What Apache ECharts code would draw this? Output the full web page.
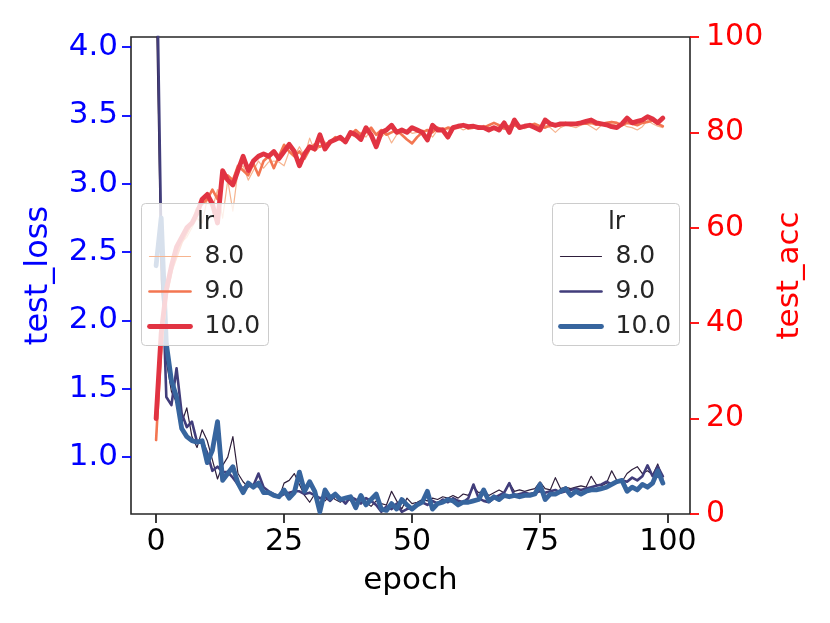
<!DOCTYPE html>
<html>
<head>
<meta charset="utf-8">
<script src="https://cdn.jsdelivr.net/npm/echarts@6/dist/echarts.min.js"></script>
<style>
  html, body { margin: 0; padding: 0; background: #fff; }
  #chart { width: 830px; height: 623px; }
</style>
</head>
<body>
<div id="chart"></div>
<script>
// hue levels (learning rate)
const LR_LABELS = ['8.0', '9.0', '10.0'];
const EPOCH_TICKS = [0, 25, 50, 75, 100];
const LOSS_TICKS = [1.0, 1.5, 2.0, 2.5, 3.0, 3.5, 4.0];

// test_loss per epoch (0..99)
const LOSS_LR8 = [4.4, 2.3, 1.70, 1.48, 1.40, 1.25, 1.36, 1.15, 1.07, 1.20,
  1.12, 0.98, 0.84, 0.94, 1.00, 1.15, 0.88, 0.82, 0.78, 0.80,
  0.78, 0.75, 0.73, 0.72, 0.70, 0.81, 0.83, 0.88, 0.80, 0.72,
  0.67, 0.73, 0.70, 0.68, 0.72, 0.69, 0.67, 0.71, 0.68, 0.66,
  0.70, 0.67, 0.64, 0.68, 0.66, 0.65, 0.75, 0.68, 0.62, 0.70,
  0.66, 0.67, 0.69, 0.68, 0.70, 0.69, 0.71, 0.70, 0.72, 0.70,
  0.73, 0.72, 0.78, 0.74, 0.75, 0.72, 0.74, 0.76, 0.74, 0.81,
  0.75, 0.76, 0.75, 0.76, 0.77, 0.82, 0.77, 0.76, 0.85, 0.77,
  0.78, 0.77, 0.78, 0.79, 0.78, 0.86, 0.80, 0.79, 0.81, 0.90,
  0.83, 0.82, 0.88, 0.91, 0.93, 0.88, 0.90, 0.87, 0.95, 0.84];
const LOSS_LR9 = [5.0, 2.6, 1.44, 1.38, 1.65, 1.32, 1.22, 1.26, 1.11, 1.12,
  1.03, 0.90, 0.93, 0.89, 0.89, 0.85, 0.80, 0.77, 0.81, 0.79,
  0.88, 0.78, 0.75, 0.73, 0.71, 0.73, 0.74, 0.75, 0.75, 0.73,
  0.74, 0.72, 0.70, 0.71, 0.68, 0.72, 0.70, 0.66, 0.71, 0.69,
  0.66, 0.70, 0.68, 0.65, 0.60, 0.64, 0.62, 0.66, 0.60, 0.62,
  0.63, 0.66, 0.67, 0.65, 0.68, 0.66, 0.69, 0.67, 0.70, 0.68,
  0.67, 0.70, 0.80, 0.70, 0.68, 0.67, 0.70, 0.72, 0.74, 0.81,
  0.72, 0.73, 0.74, 0.73, 0.74, 0.75, 0.74, 0.75, 0.76, 0.74,
  0.75, 0.76, 0.77, 0.76, 0.77, 0.78, 0.79, 0.80, 0.82, 0.80,
  0.82, 0.83, 0.82, 0.85, 0.83, 0.86, 0.94, 0.86, 0.93, 0.86];
const LOSS_LR10 = [2.40, 2.75, 1.83, 1.56, 1.44, 1.21, 1.15, 1.12, 1.11, 1.12,
  0.96, 1.05, 1.26, 0.83, 0.88, 0.93, 0.81, 0.74, 0.81, 0.78,
  0.81, 0.74, 0.74, 0.72, 0.71, 0.76, 0.70, 0.74, 0.89, 0.75,
  0.82, 0.75, 0.60, 0.76, 0.70, 0.73, 0.69, 0.70, 0.71, 0.63,
  0.72, 0.65, 0.69, 0.73, 0.62, 0.61, 0.66, 0.62, 0.69, 0.65,
  0.62, 0.65, 0.67, 0.75, 0.62, 0.66, 0.67, 0.69, 0.68, 0.65,
  0.67, 0.67, 0.68, 0.69, 0.76, 0.68, 0.71, 0.69, 0.72, 0.71,
  0.72, 0.71, 0.72, 0.72, 0.73, 0.80, 0.69, 0.73, 0.73, 0.75,
  0.77, 0.72, 0.75, 0.73, 0.75, 0.76, 0.76, 0.77, 0.78, 0.80,
  0.82, 0.83, 0.75, 0.78, 0.76, 0.80, 0.78, 0.81, 0.90, 0.81];

// test_acc per epoch (0..99)
const ACC_LR8 = [15.5, 33, 45, 50, 55, 57, 58, 60, 62, 61,
  66, 64, 68, 62, 70, 63.5, 72, 73, 70, 72,
  74, 72.5, 73.8, 74, 73.8, 73, 76, 75, 77, 75,
  78.8, 76, 77, 78, 77.5, 78.5, 79, 78, 79.5, 79,
  80, 79, 80.5, 79.5, 79, 80, 77.8, 79.5, 80, 80.5,
  79.8, 80, 80.5, 80.2, 79, 80.5, 81, 80.5, 80.8, 81.2,
  80.5, 81, 81.2, 80.8, 81.5, 81, 80.5, 81.3, 81, 81.5,
  81.8, 81, 80.8, 81.3, 81.5, 81.2, 81.5, 81, 80, 81,
  81.5, 81.3, 81, 81.5, 81.8, 81.2, 80.5, 81.5, 82, 81.8,
  81.5, 81.8, 81.2, 81, 80.5, 81.2, 82.5, 81.8, 81.3, 81];
const ACC_LR9 = [15.5, 35, 46, 51, 54, 57, 59, 61, 64, 65,
  66, 68, 66, 70, 71, 70, 73, 72, 71, 73.5,
  71, 74, 75, 72.5, 75, 77.4, 76, 75, 76, 74.5,
  76.5, 77.5, 77, 77.5, 78, 79, 78.5, 78, 79.5, 80.5,
  79.5, 80, 81, 79.5, 80.5, 79.5, 80, 80.5, 79.5, 78.5,
  77.7, 79, 80, 80.5, 80, 81, 80.5, 81, 80.8, 81,
  81.5, 80.8, 81, 81.3, 81, 81.5, 82, 81.5, 80.8, 81.3,
  81.5, 81, 81.3, 81.5, 81.8, 81.3, 81, 81.5, 81.3, 81.5,
  82, 81.5, 81.8, 82, 81.8, 82, 81.6, 81.8, 82, 82.2,
  82, 81.5, 82, 81.8, 81.5, 82, 82.2, 82.5, 81.8, 81.3];
const ACC_LR10 = [20, 38, 47, 52, 56, 58, 60, 61, 63, 66,
  67, 65, 61, 72, 70, 69, 72, 75, 72, 74,
  75, 75.5, 75, 76, 74.5, 76, 77.5, 76, 73, 75.5,
  77, 76.5, 79.5, 76.5, 78, 78.5, 79, 78, 80, 79.5,
  78.5, 81, 79.5, 77, 80, 80.5, 81.5, 80, 80.5, 80,
  81, 80.5, 80, 78.4, 81.5, 80.5, 80.5, 79, 81, 81.3,
  81.5, 81.2, 81.3, 81, 81, 80.5, 81, 80.5, 82, 80,
  82.6, 81, 81.3, 81.5, 81, 80.5, 82.6, 81.8, 81.5, 81.8,
  81.8, 81.8, 81.8, 82, 82.3, 82.6, 82, 81.8, 81.6, 81.2,
  81, 81.8, 83, 82, 82.3, 82.6, 83.3, 82.8, 82, 83];

const LOSS_COLORS = ['#2e1e3b', '#413d7b', '#37659e'];
const ACC_COLORS = ['#f6b48f', '#f37651', '#e13342'];
const WIDTHS = [1.2, 2.6, 4.8];
const TEXT = '#262626';
const FONT = 'DejaVu Sans';

const chart = echarts.init(document.getElementById('chart'), null, { renderer: 'canvas' });

function toPairs(arr) {
  return arr.map((v, i) => [i, v]);
}

function lineSeries(name, data, color, width, axisIdx, z) {
  return {
    name: name,
    type: 'line',
    yAxisIndex: axisIdx,
    data: toPairs(data),
    showSymbol: false,
    symbol: 'none',
    clip: true,
    z: z,
    lineStyle: { color: color, width: width, join: 'round', cap: 'round' },
    emphasis: { disabled: true },
  };
}

// legend box drawn as graphic (seaborn style with "lr" title)
function legendBox(left, top, colors) {
  const Z = 100;
  const children = [
    {
      type: 'rect', z: Z,
      shape: { x: 0, y: 0, width: 127, height: 142, r: 4 },
      style: { fill: 'rgba(255,255,255,0.8)', stroke: '#cccccc', lineWidth: 1 },
    },
    {
      type: 'text', z: Z + 1,
      x: 64, y: 19,
      style: { text: 'lr', fill: TEXT, font: '25px "DejaVu Sans"', textAlign: 'center', textVerticalAlign: 'middle' },
    },
  ];
  LR_LABELS.forEach((lab, i) => {
    const y = 53 + i * 35;
    children.push({
      type: 'line', z: Z + 1,
      shape: { x1: 8, y1: y, x2: 49, y2: y },
      style: { stroke: colors[i], lineWidth: WIDTHS[i], lineCap: 'round' },
    });
    children.push({
      type: 'text', z: Z + 1,
      x: 63, y: y,
      style: { text: lab, fill: TEXT, font: '25px "DejaVu Sans"', textAlign: 'left', textVerticalAlign: 'middle' },
    });
  });
  return { type: 'group', left: left, top: top, z: Z, children: children };
}

const series = [];
LR_LABELS.forEach((lab, i) => {
  series.push(lineSeries('loss ' + lab, [LOSS_LR8, LOSS_LR9, LOSS_LR10][i], LOSS_COLORS[i], WIDTHS[i], 0, 2 + i));
});
LR_LABELS.forEach((lab, i) => {
  series.push(lineSeries('acc ' + lab, [ACC_LR8, ACC_LR9, ACC_LR10][i], ACC_COLORS[i], WIDTHS[i], 1, 6 + i));
});

const option = {
  backgroundColor: '#ffffff',
  animation: false,
  textStyle: { fontFamily: FONT },
  grid: {
    left: 131, right: 140, top: 37, bottom: 109,
    show: true, borderColor: TEXT, borderWidth: 1.6, backgroundColor: 'transparent',
  },
  xAxis: {
    type: 'value',
    min: -4.9,
    max: 104.3,
    name: 'epoch',
    nameLocation: 'middle',
    nameGap: 51,
    nameTextStyle: { color: '#000', fontSize: 31, fontFamily: FONT },
    axisLine: { show: false, onZero: false },
    splitLine: { show: false },
    axisTick: { show: true, customValues: EPOCH_TICKS, length: 9, lineStyle: { color: TEXT, width: 1.8 } },
    axisLabel: { customValues: EPOCH_TICKS, color: '#000', fontSize: 30, fontFamily: FONT, margin: 13 },
  },
  yAxis: [
    {
      type: 'value',
      position: 'left',
      min: 0.584,
      max: 4.073,
      name: 'test_loss',
      nameLocation: 'middle',
      nameGap: 76,
      nameTextStyle: { color: '#0000ff', fontSize: 32, fontFamily: FONT },
      axisLine: { show: false, onZero: false },
      splitLine: { show: false },
      axisTick: { show: true, customValues: LOSS_TICKS, length: 9, lineStyle: { color: '#0000ff', width: 1.8 } },
      axisLabel: {
        customValues: LOSS_TICKS, color: '#0000ff', fontSize: 31, fontFamily: FONT, margin: 13,
        formatter: (v) => v.toFixed(1),
      },
    },
    {
      type: 'value',
      position: 'right',
      min: 0,
      max: 100,
      interval: 20,
      name: 'test_acc',
      nameLocation: 'middle',
      nameGap: 84,
      nameRotate: 90,
      nameTextStyle: { color: '#ff0000', fontSize: 31, fontFamily: FONT },
      axisLine: { show: false, onZero: false },
      splitLine: { show: false },
      axisTick: { show: true, length: 9, lineStyle: { color: '#ff0000', width: 1.8 } },
      axisLabel: { color: '#ff0000', fontSize: 30, fontFamily: FONT, margin: 16 },
    },
  ],
  series: series,
  graphic: [
    legendBox(141, 203, ACC_COLORS),
    legendBox(552, 203, LOSS_COLORS),
  ],
};

chart.setOption(option);
</script>
</body>
</html>
